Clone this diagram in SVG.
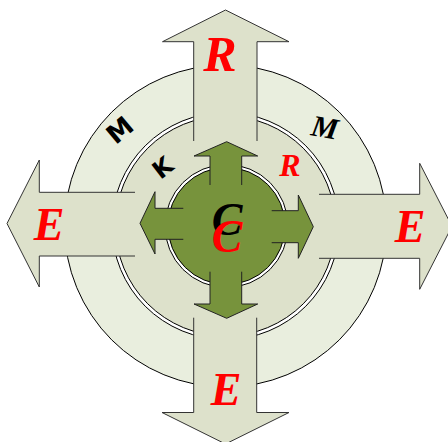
<svg xmlns="http://www.w3.org/2000/svg" width="448" height="442" viewBox="0 0 448 442">
<style>
.big{fill:#DDE1CB;stroke:none}
.bigl{fill:none;stroke:#333;stroke-width:1}
.grn{fill:#77933C;stroke:none}
.grnl{fill:none;stroke:#222;stroke-width:1}
.scr{font-family:"Liberation Serif",serif;font-style:italic;font-weight:bold;text-anchor:middle;dominant-baseline:central}
.red{fill:#FF0000}
.blk{fill:#000}
.sans{font-family:"DejaVu Sans",sans-serif;font-weight:bold;text-anchor:middle;dominant-baseline:central}
</style>
<rect width="448" height="442" fill="#fff"/>
<g id="rings">
<circle cx="225.5" cy="226" r="161" fill="#E9EEDE" stroke="#000" stroke-width="1"/>
<circle cx="225.5" cy="226" r="113.5" fill="#fff" stroke="#000" stroke-width="1"/>
<circle cx="225.5" cy="226" r="110" fill="#DDE1CB" stroke="#000" stroke-width="1"/>
</g>
<g id="connectors">
<g id="arrow-up">
<path class="big" d="M193.7,141 L193.7,41.7 L162.5,41.7 L225.5,10 L289,41.7 L257,41.7 L257,141 Z"/>
<path class="bigl" d="M193.7,141 L193.7,41.7 L162.5,41.7 L225.5,10 L289,41.7 L257,41.7 L257,141"/>
</g>
<g id="arrow-left">
<path class="big" d="M135,192.3 L39.3,192.3 L39.3,160 L7,223.5 L39.3,287 L39.3,256 L135,256 Z"/>
<path class="bigl" d="M135,192.3 L39.3,192.3 L39.3,160 L7,223.5 L39.3,287 L39.3,256 L135,256"/>
</g>
<g id="arrow-right">
<path class="big" d="M319,194.3 L419.7,194.3 L419.7,163.3 L452,226.3 L419.7,289.3 L419.7,258.3 L319,258.3 Z"/>
<path class="bigl" d="M319,194.3 L419.7,194.3 L419.7,163.3 L452,226.3 L419.7,289.3 L419.7,258.3 L319,258.3"/>
</g>
<g id="arrow-down">
<path class="big" d="M193.7,317.7 L193.7,412.5 L162,412.5 L225.5,444 L289,412.5 L256.7,412.5 L256.7,317.7 Z"/>
<path class="bigl" d="M193.7,317.7 L193.7,412.5 L162,412.5 L225.5,444 L289,412.5 L256.7,412.5 L256.7,317.7"/>
</g>
</g>
<g id="core">
<circle cx="226.5" cy="226" r="61.5" fill="#fff" stroke="#000" stroke-width="1"/>
<circle cx="226.5" cy="226" r="58.5" fill="#77933C" stroke="#000" stroke-width="1"/>
<path class="grn" d="M210,186 L210,156 L194,156 L226.7,141.7 L257.7,156 L241.7,156 L241.7,186 Z"/>
<path class="grnl" d="M210,185 L210,156 L194,156 L226.7,141.7 L257.7,156 L241.7,156 L241.7,185"/>
<path class="grn" d="M184,208.3 L155,208.3 L155,191.7 L140,223.3 L155,254 L155,239.3 L184,239.3 Z"/>
<path class="grnl" d="M183.3,208.3 L155,208.3 L155,191.7 L140,223.3 L155,254 L155,239.3 L183.3,239.3"/>
<path class="grn" d="M271,210.7 L298.3,210.7 L298.3,195 L313.3,226.7 L298.3,258.3 L298.3,242.7 L271,242.7 Z"/>
<path class="grnl" d="M271.7,210.7 L298.3,210.7 L298.3,195 L313.3,226.7 L298.3,258.3 L298.3,242.7 L271.7,242.7"/>
<path class="grn" d="M210,271 L210,304 L194,304 L226.7,318.3 L257.7,304 L241.7,304 L241.7,271 Z"/>
<path class="grnl" d="M210,271.7 L210,304 L194,304 L226.7,318.3 L257.7,304 L241.7,304 L241.7,271.7"/>
</g>
<g id="labels">
<text class="scr red" x="220" y="54" font-size="50">R</text>
<text class="scr red" x="49" y="224" font-size="46">E</text>
<text class="scr red" x="410" y="226" font-size="46">E</text>
<text class="scr red" x="226" y="389" font-size="46">E</text>
<text class="scr blk" x="227" y="219" font-size="46">C</text>
<text class="scr red" x="227" y="236" font-size="46">C</text>
<text class="scr red" x="290" y="165" font-size="32">R</text>
<text class="scr blk" x="325" y="127" font-size="30" transform="rotate(10 325 127)">M</text>
<text class="sans blk" x="120" y="130" font-size="26" transform="rotate(-40 120 130)">M</text>
<text class="sans blk" x="163" y="168" font-size="24" transform="rotate(-38 163 168)">K</text>
</g>
</svg>
